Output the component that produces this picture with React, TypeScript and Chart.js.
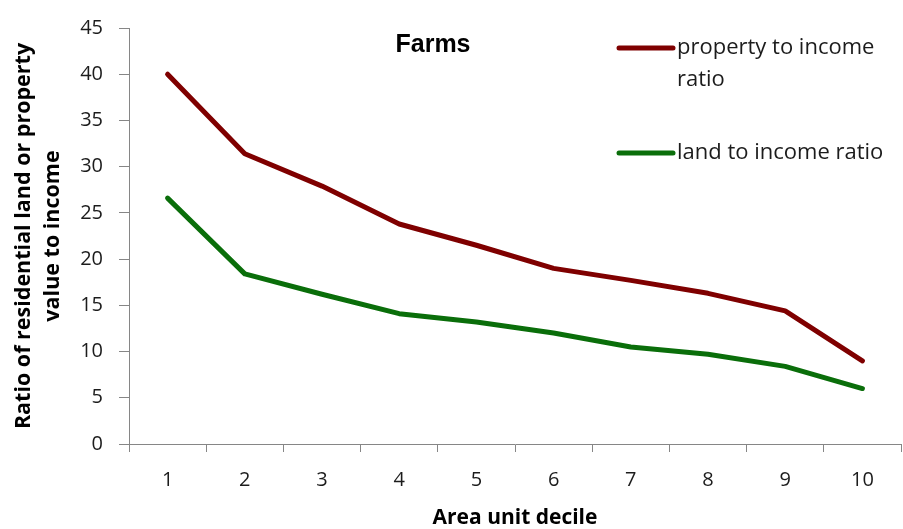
import React, { useEffect, useRef } from "react";
import { Chart, registerables } from "chart.js";

Chart.register(...registerables);

// ---- data ----
const deciles = ["1", "2", "3", "4", "5", "6", "7", "8", "9", "10"];
const propertyRatio = [40.0, 31.4, 27.9, 23.8, 21.5, 19.0, 17.7, 16.3, 14.4, 9.0];
const landRatio = [26.6, 18.4, 16.2, 14.1, 13.2, 12.0, 10.5, 9.7, 8.4, 6.0];
const seriesNames = ["property to income ratio", "land to income ratio"];
const legendLabelLines = [["property to income", "ratio"], ["land to income ratio"]];
const yMin = 0;
const yMax = 45;
const yStep = 5;
const chartTitle = "Farms";
const xAxisTitle = "Area unit decile";
const yAxisTitle = ["Ratio of residential land or property", "value to income"];

const RED = "#7f0000";
const GREEN = "#0a6e0a";
const AXIS = "#868686";
const TEXT = "#1c1c1c";

const overlayPlugin = {
  id: "overlay",
  afterDraw(chart: any) {
    const ctx = chart.ctx as CanvasRenderingContext2D;
    ctx.save();
    // title
    ctx.font = "bold 25px 'Liberation Sans', Arial, sans-serif";
    ctx.fillStyle = "#000";
    ctx.textAlign = "center";
    ctx.textBaseline = "alphabetic";
    ctx.fillText(chartTitle, 433, 52);

    // legend
    const colors = [RED, GREEN];
    const ys = [48, 153];
    ctx.font = "22px 'Open Sans', sans-serif";
    ctx.textAlign = "left";
    ctx.textBaseline = "middle";
    legendLabelLines.forEach((lines, i) => {
      ctx.strokeStyle = colors[i];
      ctx.lineWidth = 5;
      ctx.lineCap = "round";
      ctx.beginPath();
      ctx.moveTo(619, ys[i]);
      ctx.lineTo(673, ys[i]);
      ctx.stroke();
      ctx.fillStyle = TEXT;
      lines.forEach((t, j) => {
        ctx.fillText(t, 677, ys[i] + j * 32);
      });
    });
    ctx.restore();
  },
};

export default function App() {
  const ref = useRef<HTMLCanvasElement>(null);

  useEffect(() => {
    document.body.style.margin = "0";
    const canvas = ref.current!;
    const chart = new Chart(canvas, {
      type: "line",
      data: {
        labels: deciles,
        datasets: [
          {
            label: seriesNames[0],
            data: propertyRatio,
            borderColor: RED,
            backgroundColor: RED,
            borderWidth: 5,
            pointRadius: 0,
            tension: 0,
            borderCapStyle: "round",
            borderJoinStyle: "round",
          },
          {
            label: seriesNames[1],
            data: landRatio,
            borderColor: GREEN,
            backgroundColor: GREEN,
            borderWidth: 5,
            pointRadius: 0,
            tension: 0,
            borderCapStyle: "round",
            borderJoinStyle: "round",
          },
        ],
      },
      options: {
        responsive: false,
        animation: false,
        layout: { padding: { top: 21, right: 2, left: 0, bottom: 0 } },
        plugins: {
          legend: { display: false },
          title: { display: false },
          tooltip: { enabled: false },
        },
        scales: {
          x: {
            type: "category",
            offset: true,
            grid: {
              display: true,
              drawOnChartArea: false,
              offset: true,
              tickLength: 8,
              color: AXIS,
            },
            border: { color: AXIS, width: 1 },
            ticks: {
              color: TEXT,
              padding: 16,
              font: { family: "'Open Sans', sans-serif", size: 20 },
              maxRotation: 0,
            },
            title: {
              display: true,
              text: xAxisTitle,
              color: "#000",
              font: { family: "'Open Sans', sans-serif", size: 21, weight: "bold", lineHeight: 1.0 },
              padding: { top: 0, bottom: 0 },
            },
            afterFit: (s: any) => {
              s.height = 85;
            },
          },
          y: {
            min: yMin,
            max: yMax,
            grid: {
              display: true,
              drawOnChartArea: false,
              tickLength: 10,
              color: AXIS,
            },
            border: { color: AXIS, width: 1 },
            ticks: {
              stepSize: yStep,
              color: TEXT,
              padding: 16,
              font: { family: "'Open Sans', sans-serif", size: 20 },
            },
            title: {
              display: true,
              text: yAxisTitle,
              color: "#000",
              font: { family: "'Open Sans', sans-serif", size: 21.5, weight: "bold", lineHeight: 1.35 },
              padding: { top: 9, bottom: 0 },
            },
            afterFit: (s: any) => {
              s.width = 129;
            },
          },
        },
      },
      plugins: [overlayPlugin],
    });
    return () => chart.destroy();
  }, []);

  return (
    <div style={{ position: "absolute", left: 0, top: 0, width: 903, height: 529, background: "#fff" }}>
      <canvas ref={ref} width={903} height={529} style={{ display: "block" }} />
    </div>
  );
}
